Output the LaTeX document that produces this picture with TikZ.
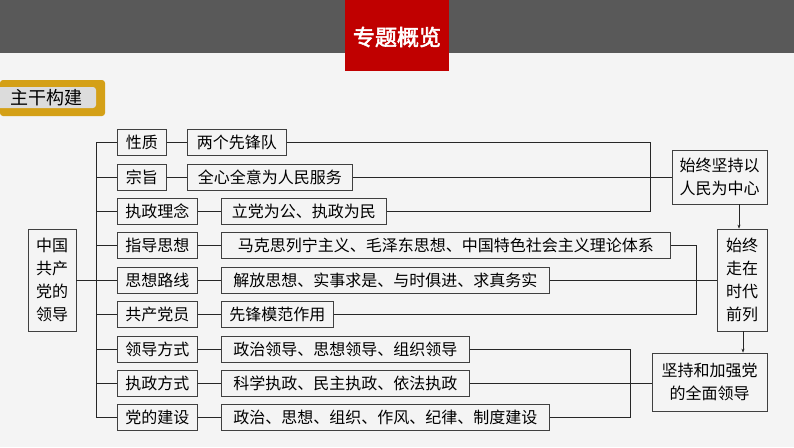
\documentclass[tikz,border=0pt]{standalone}
\usepackage{fontspec}
\setmainfont{Noto Sans CJK SC}
\newfontfamily\titlefont[FakeBold=2.5]{Noto Sans CJK SC}
\usetikzlibrary{arrows.meta}
\definecolor{barc}{HTML}{595959}
\definecolor{redc}{HTML}{C00000}
\definecolor{goldc}{HTML}{D4A017}
\definecolor{tagc}{HTML}{DCDCDC}
\definecolor{paperc}{HTML}{F4F4F4}
\tikzset{
  cbox/.style={draw=black!75, line width=0.7pt, inner sep=0pt, minimum height=26pt,
    font=\fontsize{16}{23}\selectfont},
  rbox/.style={cbox, align=center},
  link/.style={draw=black!85, line width=0.6pt},
}

\begin{document}
\begin{tikzpicture}[x=1pt, y=-1pt]
        % Background and header bar
        \fill[paperc] (0,0) rectangle (794,447);
        \useasboundingbox (0,0) rectangle (794,447);
        \fill[barc] (0,0) rectangle (794,53);
        \fill[redc] (345,0) rectangle (449,71);
        \node[text=white, font=\titlefont\fontsize{22}{24}\selectfont] (title) at (397,37) {专题概览};

        % Section tag
        \fill[goldc, rounded corners=3pt] (0,80) rectangle (105,116);
        \fill[tagc, rounded corners=3pt] (-4,87) rectangle (96,108);
        \node[font=\fontsize{18}{20}\selectfont] (tag) at (46,97.5) {主干构建};

        % Root box
        \node[rbox, minimum width=48pt, minimum height=102pt] (m) at (52,280) {中国\\共产\\党的\\领导};

        % Second and third column
        \foreach \i/\y/\kw/\kt/\vx/\vw/\vt in {
            1/142/49/性质/187/99/两个先锋队,
            2/177/49/宗旨/187/165/全心全意为人民服务,
            3/211/80/执政理念/221/165/立党为公、执政为民,
            4/245/80/指导思想/221/449/马克思列宁主义、毛泽东思想、中国特色社会主义理论体系,
            5/280/80/思想路线/221/328/解放思想、实事求是、与时俱进、求真务实,
            6/314/80/共产党员/221/112/先锋模范作用,
            7/349/80/领导方式/221/248/政治领导、思想领导、组织领导,
            8/383/80/执政方式/221/248/科学执政、民主执政、依法执政,
            9/417/80/党的建设/221/328/政治、思想、组织、作风、纪律、制度建设} {
            \node[cbox, anchor=west, minimum width=\kw pt] (k\i) at (117,\y) {\kt};
            \node[cbox, anchor=west, minimum width=\vw pt] (v\i) at (\vx,\y) {\vt};
            \draw[link] (k\i.west) -- ++(-21,0);
            \draw[link] (k\i.east) -- (v\i.west);
        }

        % Trunk line from the root
        \draw[link] (k1.west) ++(-21,0) -- ([xshift=-21pt]k9.west);
        \draw[link] (m.east) -- (k5.west);

        % Right column
        \node[rbox, minimum width=95pt, minimum height=54pt] (r1) at (719.5,177) {始终坚持以\\人民为中心};
        \node[rbox, minimum width=50pt, minimum height=102pt] (r2) at (742,280) {始终\\走在\\时代\\前列};
        \node[rbox, minimum width=115pt, minimum height=58pt] (r3) at (709.5,382) {坚持和加强党\\的全面领导};

        % Joints
        \coordinate (j1) at (650,177);
        \coordinate (j2) at (696,280);
        \coordinate (j3) at (630,383);

        % Group connectors
        \draw[link] (v1.east) -| (j1) |- (v3.east);
        \draw[link] (v2.east) -- (r1.west);
        \draw[link] (v4.east) -| (j2) |- (v6.east);
        \draw[link] (v5.east) -- (r2.west);
        \draw[link] (v7.east) -| (j3) |- (v9.east);
        \draw[link] (v8.east) -- (v8.east -| r3.west);

        % Arrows between the right boxes
        \draw[link, -{Stealth[length=4pt, width=3pt]}] (r2.north |- r1.south) ++(-3,0) -- ([xshift=-3pt]r2.north);
        \draw[link, -{Stealth[length=4pt, width=3pt]}] (r2.south) ++(1,0) -- ([xshift=1pt]r2.south |- r3.north);
\end{tikzpicture}
\end{document}
